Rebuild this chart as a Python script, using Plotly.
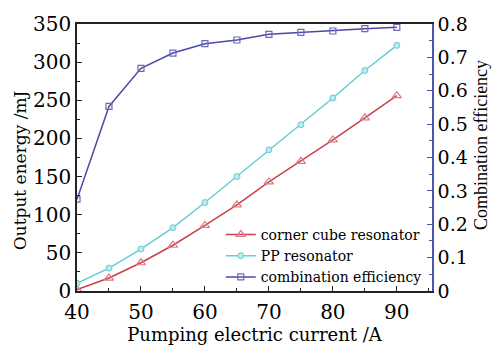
import plotly.graph_objects as go

current = [40, 45, 50, 55, 60, 65, 70, 75, 80, 85, 90]
corner_cube = [2, 17, 37, 60, 86, 113, 143, 170, 198, 227, 256]
pp_resonator = [10, 30, 55, 83, 116, 150, 185, 218, 253, 289, 322]
combination_eff = [0.275, 0.553, 0.667, 0.713, 0.741, 0.752, 0.769, 0.775, 0.779, 0.786, 0.790]

FONT = "DejaVu Serif"
FONT2 = "Liberation Serif"
fig = go.Figure()
fig.add_trace(go.Scatter(
    x=current, y=corner_cube, name="corner cube resonator", mode="lines+markers",
    line=dict(color="#c8404c", width=1.5),
    marker=dict(symbol="triangle-up-open", size=8, color="#e07888", line=dict(width=1.2))))
fig.add_trace(go.Scatter(
    x=current, y=pp_resonator, name="PP resonator", mode="lines+markers",
    line=dict(color="#66ccd4", width=1.5),
    marker=dict(symbol="circle", size=6, color="#b8eaee", line=dict(color="#66ccd4", width=1))))
fig.add_trace(go.Scatter(
    x=current, y=combination_eff, name="combination efficiency", mode="lines+markers",
    yaxis="y2",
    line=dict(color="#4a4aa6", width=1.5),
    marker=dict(symbol="square-open", size=6, color="#6a6ab8", line=dict(width=1.2))))

fig.update_layout(
    width=498, height=348,
    margin=dict(l=77, r=66, t=15, b=55),
    paper_bgcolor="white", plot_bgcolor="white",
    font=dict(family=FONT, color="black", size=18),
    showlegend=True,
    legend=dict(x=0.405, y=0.27, xanchor="left", yanchor="top",
                bgcolor="rgba(0,0,0,0)", font=dict(size=14, family=FONT),
                tracegroupgap=0, itemsizing="trace", itemwidth=30),
    xaxis=dict(range=[40, 95.5], dtick=10, tick0=40, showgrid=False, zeroline=False,
               showline=True, linecolor="#222", linewidth=1.5, mirror=True,
               ticks="inside", ticklen=5, tickcolor="#222", ticklabelstandoff=2,
               minor=dict(dtick=5, ticks="inside", ticklen=3, tickcolor="#222"),
               title=dict(text="Pumping electric current /A", font=dict(size=18), standoff=0),
               tickfont=dict(size=20)),
    yaxis=dict(range=[0, 350], dtick=50, showgrid=False, zeroline=False,
               showline=True, linecolor="#222", linewidth=1.5,
               ticks="inside", ticklen=5, tickcolor="#222",
               minor=dict(dtick=25, ticks="inside", ticklen=3, tickcolor="#222"),
               tickfont=dict(size=20)),
    yaxis2=dict(range=[0, 0.8], dtick=0.1, overlaying="y", side="right",
                showgrid=False, zeroline=False, tickformat="~g",
                showline=True, linecolor="#4a56b0", linewidth=1.5,
                ticks="inside", ticklen=5, tickcolor="#4a56b0",
                minor=dict(dtick=0.05, ticks="inside", ticklen=3, tickcolor="#4a56b0"),
                tickfont=dict(size=19)),
    annotations=[
        dict(text="Output energy /mJ", textangle=-90, xref="paper", yref="paper",
             x=-0.16, y=(293 - 167) / 278, xanchor="center", yanchor="middle",
             showarrow=False, font=dict(size=17, family=FONT)),
        dict(text="Combination efficiency", textangle=-90, xref="paper", yref="paper",
             x=(481 - 77) / 355, y=(293 - 141) / 278, xanchor="center", yanchor="middle",
             showarrow=False, font=dict(size=18, family=FONT2)),
    ],
)
fig.write_html("out.html")
